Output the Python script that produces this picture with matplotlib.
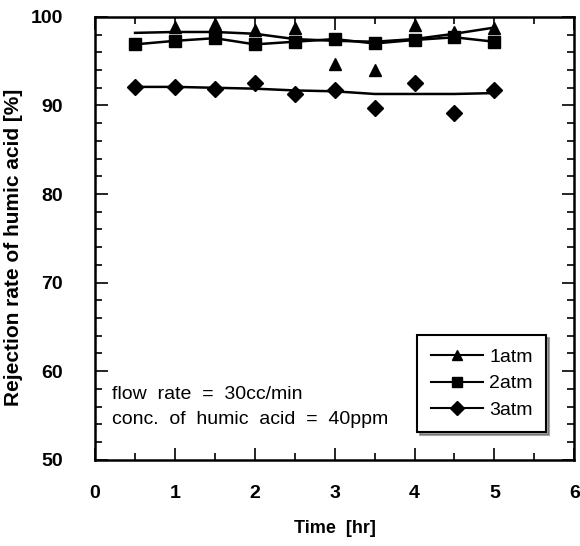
# rejection rate of humic acid vs time, 3 pressures
import numpy as np
import matplotlib.pyplot as plt

plt.rcParams['font.family'] = ['Liberation Sans', 'DejaVu Sans']

time = [0.5, 1, 1.5, 2, 2.5, 3, 3.5, 4, 4.5, 5]

# measured points
atm1 = [None, 98.9, 99.2, 98.5, 98.8, 94.7, 94.0, 99.1, 98.3, 98.7]
atm2 = [96.9, 97.3, 97.6, 96.9, 97.2, 97.5, 97.0, 97.4, 97.7, 97.2]
atm3 = [92.1, 92.1, 91.9, 92.5, 91.3, 91.7, 89.7, 92.5, 89.2, 91.7]

# fitted curves
fit1 = [98.2, 98.3, 98.3, 98.1, 97.5, 97.3, 97.2, 97.5, 98.1, 98.8]
fit3 = [92.1, 92.1, 92.0, 91.9, 91.7, 91.6, 91.3, 91.3, 91.3, 91.4]

xticks = [0, 1, 2, 3, 4, 5, 6]
yticks = [50, 60, 70, 80, 90, 100]

fig = plt.figure(figsize=(5.8, 5.46), dpi=100)
ax = fig.add_axes([0.164, 0.158, 0.826, 0.811])

t1 = [t for t, v in zip(time, atm1) if v is not None]
v1 = [v for v in atm1 if v is not None]

# fitted lines + points
ax.plot(time, fit1, color='k', lw=1.8)
ax.plot(t1, v1, ls='none', marker='^', color='k', ms=9)
ax.plot(time, atm2, color='k', lw=1.8, marker='s', ms=8.5)
ax.plot(time, fit3, color='k', lw=1.8)
ax.plot(time, atm3, ls='none', marker='D', color='k', ms=8.5)

# legend handles
h1, = ax.plot([], [], color='k', lw=1.5, marker='^', ms=7, label='1atm')
h2, = ax.plot([], [], color='k', lw=1.5, marker='s', ms=7, label='2atm')
h3, = ax.plot([], [], color='k', lw=1.5, marker='D', ms=7, label='3atm')
leg = ax.legend(handles=[h1, h2, h3], loc='lower right',
                bbox_to_anchor=(0.962, 0.04), frameon=True, fancybox=False,
                shadow=True, fontsize=14, handlelength=2.7,
                handletextpad=0.3, borderpad=0.7, labelspacing=0.45)
leg.get_frame().set_edgecolor('k')
leg.get_frame().set_linewidth(1.5)

ax.text(0.035, 0.147, 'flow  rate  =  30cc/min', transform=ax.transAxes,
        fontsize=14, va='center')
ax.text(0.035, 0.09, 'conc.  of  humic  acid  =  40ppm', transform=ax.transAxes,
        fontsize=14, va='center')

ax.set_xlim(0, 6)
ax.set_ylim(50, 100)
ax.set_xticks(xticks)
ax.set_yticks(yticks)
ax.set_xticks(np.arange(0, 6.01, 0.5), minor=True)
ax.set_yticks(np.arange(50, 100.1, 2), minor=True)
ax.tick_params(which='both', direction='in', top=True, right=True, width=1.2)
ax.tick_params(which='major', length=9, labelsize=14)
ax.tick_params(which='minor', length=5)
ax.tick_params(axis='x', pad=18)
ax.tick_params(axis='y', pad=23)
for lab in ax.get_xticklabels() + ax.get_yticklabels():
    lab.set_fontweight('bold')
for s in ax.spines.values():
    s.set_linewidth(1.8)

ax.set_xlabel('Time  [hr]', fontsize=13, fontweight='bold', labelpad=13)
ax.set_ylabel('Rejection rate of humic acid [%]', fontsize=15,
              fontweight='bold')
ax.yaxis.set_label_coords(-0.15, 0.48)

fig.savefig('out.png', dpi=100)
